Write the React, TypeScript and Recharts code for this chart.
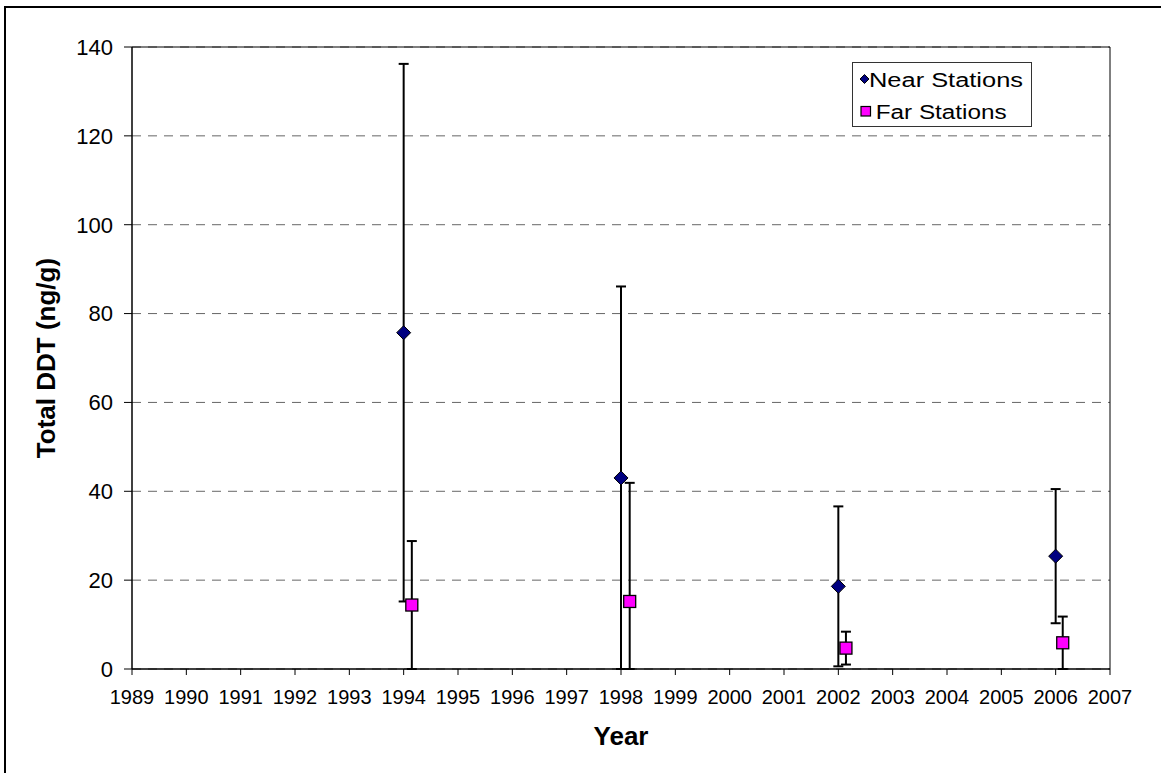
import React from 'react';
import {
  ScatterChart,
  Scatter,
  XAxis,
  YAxis,
  CartesianGrid,
  ErrorBar,
  ReferenceLine,
  Legend,
} from 'recharts';

// ---- data ----
const nearYears = [1994, 1998, 2002, 2006];
const nearValues = [75.7, 43.0, 18.6, 25.4];
const nearErrLow = [60.5, 43.0, 18.0, 15.1];
const nearErrHigh = [60.5, 43.1, 18.0, 15.1];

const farYears = [1994.15, 1998.16, 2002.14, 2006.13];
const farValues = [14.4, 15.2, 4.7, 5.9];
// lower bar of 1998 is cut at the axis (0) in the reference
const farErrLow = [14.4, 15.2, 3.7, 5.9];
const farErrHigh = [14.4, 26.7, 3.7, 5.9];

const xTicks = [
  1989, 1990, 1991, 1992, 1993, 1994, 1995, 1996, 1997, 1998, 1999, 2000,
  2001, 2002, 2003, 2004, 2005, 2006, 2007,
];
const yTicks = [0, 20, 40, 60, 80, 100, 120, 140];

const seriesNames = ['Near Stations', 'Far Stations'];
const xTitle = 'Year';
const yTitle = 'Total DDT (ng/g)';

const nearData = nearYears.map((x, i) => ({ x, y: nearValues[i], err: [nearErrLow[i], nearErrHigh[i]] }));
const farData = farYears.map((x, i) => ({ x, y: farValues[i], err: [farErrLow[i], farErrHigh[i]] }));

const FONT = "Arial, 'Liberation Sans', Helvetica, sans-serif";
const NEAR_COLOR = '#000080';
const FAR_COLOR = '#FF00FF';

const DiamondShape = (props: any) => {
  const { cx, cy } = props;
  const r = 7;
  return (
    <polygon
      points={`${cx},${cy - r} ${cx + r},${cy} ${cx},${cy + r} ${cx - r},${cy}`}
      fill={NEAR_COLOR}
      stroke="#000"
      strokeWidth={1}
    />
  );
};

const SquareShape = (props: any) => {
  const { cx, cy } = props;
  const h = 6;
  return (
    <rect x={cx - h} y={cy - h} width={2 * h} height={2 * h} fill={FAR_COLOR} stroke="#000" strokeWidth={1.3} />
  );
};

const LegendBox = () => (
  <div style={{ width: 178, height: 63, border: '1px solid #333', background: '#fff' }}>
    <svg width={178} height={63} style={{ display: 'block' }}>
      <polygon points="11.5,11.5 16,16 11.5,20.5 7,16" fill={NEAR_COLOR} stroke="#000" strokeWidth={1} />
      <text x={16} y={23.7} fontSize={20} fontFamily={FONT} fill="#000" textLength={154} lengthAdjust="spacingAndGlyphs">
        {seriesNames[0]}
      </text>
      <rect x={8} y={43.5} width={9.5} height={9.5} fill={FAR_COLOR} stroke="#000" strokeWidth={1.2} />
      <text x={22.7} y={56.3} fontSize={20} fontFamily={FONT} fill="#000" textLength={131} lengthAdjust="spacingAndGlyphs">
        {seriesNames[1]}
      </text>
    </svg>
  </div>
);

const YTitle = (props: any) => {
  const { viewBox } = props;
  const x = viewBox.x + 55;
  const y = viewBox.y + viewBox.height / 2;
  return (
    <text
      x={x}
      y={y}
      transform={`rotate(-90 ${x} ${y})`}
      textAnchor="middle"
      fontSize={26}
      fontWeight="bold"
      fontFamily={FONT}
      fill="#000"
    >
      {yTitle}
    </text>
  );
};

const XTitle = (props: any) => {
  const { viewBox } = props;
  const x = viewBox.x + viewBox.width / 2;
  const y = viewBox.y + 76;
  return (
    <text x={x} y={y} textAnchor="middle" fontSize={26} fontWeight="bold" fontFamily={FONT} fill="#000">
      {xTitle}
    </text>
  );
};

export default function App() {
  return (
    <div style={{ position: 'absolute', left: 0, top: 0, width: 1161, height: 773, background: '#fff' }}>
      <div
        style={{
          position: 'absolute',
          left: 4,
          top: 6,
          width: 1161,
          height: 773,
          borderLeft: '2px solid #000',
          borderTop: '2px solid #000',
          boxSizing: 'border-box',
        }}
      />
      <ScatterChart
        width={1161}
        height={773}
        margin={{ top: 47, right: 51, bottom: 0, left: 0 }}
        style={{ fontFamily: FONT }}
      >
        <CartesianGrid vertical={false} stroke="#666" strokeDasharray="9 7" strokeWidth={1} />
        <XAxis
          type="number"
          dataKey="x"
          domain={[1989, 2007]}
          ticks={xTicks}
          interval={0}
          height={104}
          tickSize={6}
          tickMargin={15}
          axisLine={{ stroke: '#000', strokeWidth: 1.5 }}
          tickLine={{ stroke: '#000', strokeWidth: 1 }}
          tick={{ fill: '#000', fontSize: 20, fontFamily: FONT }}
          label={<XTitle />}
        />
        <YAxis
          type="number"
          dataKey="y"
          domain={[0, 140]}
          ticks={yTicks}
          interval={0}
          width={132}
          tickSize={8}
          tickMargin={11}
          axisLine={{ stroke: '#000', strokeWidth: 1.5 }}
          tickLine={{ stroke: '#000', strokeWidth: 1 }}
          tick={{ fill: '#000', fontSize: 22, fontFamily: FONT }}
          label={<YTitle />}
        />
        <ReferenceLine y={140} stroke="#000" strokeWidth={1} />
        <ReferenceLine x={2007} stroke="#000" strokeWidth={1} />
        <Legend
          layout="vertical"
          align="center"
          verticalAlign="middle"
          content={() => <LegendBox />}
          wrapperStyle={{ position: 'absolute', left: 852, top: 62, width: 'auto', height: 'auto' }}
        />
        <Scatter
          name={seriesNames[0]}
          data={nearData}
          shape={<DiamondShape />}
          fill={NEAR_COLOR}
          isAnimationActive={false}
        >
          <ErrorBar dataKey="err" direction="y" width={5} stroke="#000" strokeWidth={2} />
        </Scatter>
        <Scatter
          name={seriesNames[1]}
          data={farData}
          shape={<SquareShape />}
          fill={FAR_COLOR}
          isAnimationActive={false}
        >
          <ErrorBar dataKey="err" direction="y" width={5} stroke="#000" strokeWidth={2} />
        </Scatter>
      </ScatterChart>
    </div>
  );
}
